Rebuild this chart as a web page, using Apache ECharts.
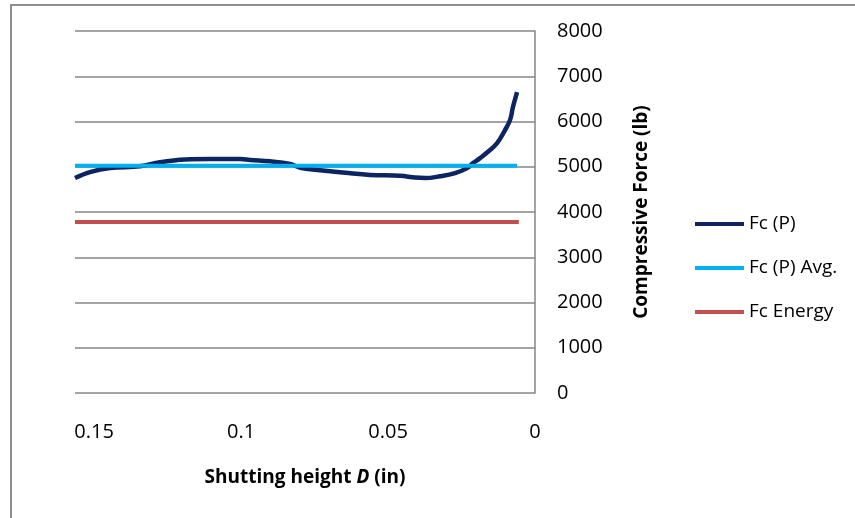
<!DOCTYPE html>
<html>
<head>
<meta charset="utf-8">
<script src="https://cdn.jsdelivr.net/npm/echarts@6/dist/echarts.min.js"></script>
<style>
  html, body { margin: 0; padding: 0; background: #fff; }
  #chart { width: 855px; height: 518px; }
</style>
</head>
<body>
<div id="chart"></div>
<script>
// shutting height D (in)
const heights = [0.1565, 0.1514, 0.1446, 0.1344, 0.1276, 0.1190, 0.1105, 0.1003, 0.0969, 0.0901,
  0.0833, 0.0799, 0.0663, 0.0561, 0.0459, 0.0408, 0.0374, 0.0323, 0.0272, 0.0231,
  0.0211, 0.0187, 0.0160, 0.0129, 0.0102, 0.0085, 0.0075, 0.0061]
const fcP = [4750, 4880, 4970, 5010, 5100, 5160, 5170, 5170, 5150, 5120,
  5060, 4980, 4880, 4820, 4800, 4760, 4750, 4790, 4860, 4970,
  5080, 5190, 5330, 5520, 5810, 6030, 6320, 6650]
const avgX = [0.1565, 0.0061]
const avgY = [5020, 5020]
const energyX = [0.1565, 0.0055]
const energyY = [3780, 3780]
const xTicks = [0, 0.05, 0.1, 0.15]

const font = '"Open Sans", sans-serif'
const colors = ['#0D2463', '#00B0F0', '#C0504D']

const pairs = (xs, ys) => xs.map((x, i) => [x, ys[i]])

const chart = echarts.init(document.getElementById('chart'))
chart.setOption({
  animation: false,
  color: colors,
  textStyle: { fontFamily: font },
  grid: { left: 75, right: 320, top: 31, bottom: 125 },
  graphic: [{
    type: 'rect',
    shape: { x: 11, y: 5, width: 900, height: 600 },
    style: { fill: 'none', stroke: '#8e8e8e', lineWidth: 2 },
    silent: true
  }],
  legend: {
    orient: 'vertical',
    left: 690,
    top: 209,
    icon: 'rect',
    itemWidth: 49,
    itemHeight: 4,
    itemGap: 24,
    textStyle: { fontSize: 19, color: '#000', fontFamily: font, lineHeight: 20 },
    data: ['Fc (P)', 'Fc (P) Avg.', 'Fc Energy']
  },
  xAxis: {
    type: 'value',
    inverse: true,
    min: 0,
    max: 0.1565,
    interval: 0.05,
    name: '{b|Shutting height }{i|D}{b| (in)}',
    nameLocation: 'middle',
    nameGap: 75,
    nameMoveOverlap: false,
    nameTextStyle: {
      rich: {
        b: { fontSize: 19, fontWeight: 'bold', fontFamily: font, color: '#000' },
        i: { fontSize: 19, fontWeight: 'bold', fontStyle: 'italic', fontFamily: font, color: '#000' }
      }
    },
    axisLine: { show: false },
    axisTick: { show: false },
    splitLine: { show: false },
    axisLabel: {
      fontSize: 20,
      color: '#000',
      margin: 29,
      formatter: (v) => {
        const t = xTicks.find(k => Math.abs(k - v) < 1e-6)
        return t === undefined ? '' : String(t)
      }
    }
  },
  yAxis: {
    type: 'value',
    position: 'right',
    min: 0,
    max: 8000,
    interval: 1000,
    name: 'Compressive Force (lb)',
    nameLocation: 'middle',
    nameRotate: 90,
    nameGap: 97,
    nameMoveOverlap: false,
    nameTextStyle: { fontSize: 19, fontWeight: 'bold', color: '#000', fontFamily: font },
    axisLine: { show: true, lineStyle: { color: '#868686', width: 1.5 } },
    axisTick: { show: false },
    axisLabel: { fontSize: 20, color: '#000', margin: 22, formatter: (v) => String(v) },
    splitLine: { lineStyle: { color: '#868686', width: 1.5 } }
  },
  series: [
    {
      name: 'Fc (P)',
      type: 'line',
      smooth: 0.4,
      showSymbol: false,
      data: pairs(heights, fcP),
      lineStyle: { width: 4.5, color: colors[0] },
      itemStyle: { color: colors[0] },
      z: 3
    },
    {
      name: 'Fc (P) Avg.',
      type: 'line',
      showSymbol: false,
      data: pairs(avgX, avgY),
      lineStyle: { width: 4, color: colors[1] },
      itemStyle: { color: colors[1] },
      z: 4
    },
    {
      name: 'Fc Energy',
      type: 'line',
      showSymbol: false,
      data: pairs(energyX, energyY),
      lineStyle: { width: 4, color: colors[2] },
      itemStyle: { color: colors[2] },
      z: 2
    }
  ]
})
</script>
</body>
</html>
